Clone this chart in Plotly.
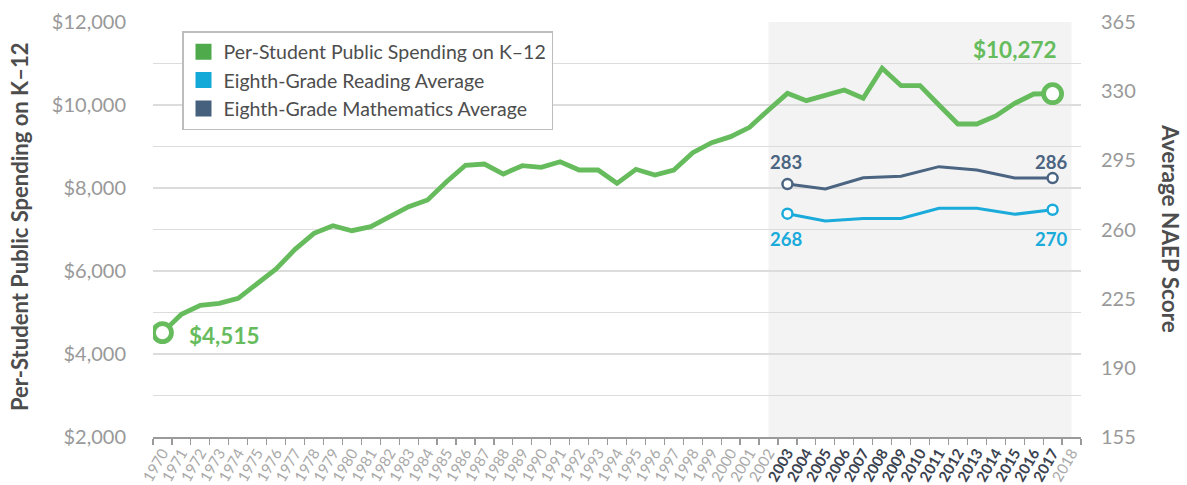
import plotly.graph_objects as go

years = [str(y) for y in range(1970, 2019)]
spend_years = [str(y) for y in range(1970, 2018)]
spending = [4515, 4957, 5173, 5222, 5342, 5687, 6048, 6522, 6908, 7092,
            6971, 7067, 7309, 7550, 7711, 8152, 8547, 8578, 8337, 8537,
            8498, 8634, 8434, 8434, 8113, 8450, 8313, 8434, 8851, 9092,
            9237, 9462, 9880, 10281, 10104, 10241, 10361, 10161, 10884, 10466,
            10466, 10000, 9542, 9542, 9735, 10040, 10265, 10272]
naep_years = ["2003", "2005", "2007", "2009", "2011", "2013", "2015", "2017"]
math_avg = [283, 280.5, 286.2, 287.0, 291.8, 290.1, 286.1, 286]
reading_avg = [268, 264.3, 265.6, 265.6, 270.7, 270.7, 267.7, 270]
left_ticks = [2000, 4000, 6000, 8000, 10000, 12000]
right_ticks = [155, 190, 225, 260, 295, 330, 365]
highlight_years = [str(y) for y in range(2003, 2018)]
shade_start, shade_end = "2002", "2018"

GREEN = "#66bc5d"
CYAN = "#1aabdb"
SLATE = "#4a6481"
FONT = "Lato"

L, R, T, B = 153, 106, 22, 48
W, H = 1187, 485
plot_w = W - L - R
plot_h = H - T - B


def px_x(px):
    return (px - L) / plot_w


def px_y(py):
    return (H - B - py) / plot_h


def idx(year):
    return years.index(year)


fig = go.Figure()

fig.add_trace(go.Scatter(x=spend_years, y=spending, mode="lines",
                         line=dict(color=GREEN, width=4.8), showlegend=False,
                         yaxis="y", hoverinfo="skip"))
fig.add_trace(go.Scatter(x=naep_years, y=reading_avg, mode="lines",
                         line=dict(color=CYAN, width=3), showlegend=False,
                         yaxis="y2", hoverinfo="skip"))
fig.add_trace(go.Scatter(x=naep_years, y=math_avg, mode="lines",
                         line=dict(color=SLATE, width=3), showlegend=False,
                         yaxis="y2", hoverinfo="skip"))

# endpoint markers
fig.add_trace(go.Scatter(x=[spend_years[0], spend_years[-1]], y=[spending[0], spending[-1]],
                         mode="markers", showlegend=False, yaxis="y", hoverinfo="skip",
                         marker=dict(size=18, color="white", line=dict(color=GREEN, width=4.8))))
fig.add_trace(go.Scatter(x=[naep_years[0], naep_years[-1]], y=[reading_avg[0], reading_avg[-1]],
                         mode="markers", showlegend=False, yaxis="y2", hoverinfo="skip",
                         marker=dict(size=10, color="white", line=dict(color=CYAN, width=2.5))))
fig.add_trace(go.Scatter(x=[naep_years[0], naep_years[-1]], y=[math_avg[0], math_avg[-1]],
                         mode="markers", showlegend=False, yaxis="y2", hoverinfo="skip",
                         marker=dict(size=10, color="white", line=dict(color=SLATE, width=2.5))))

# legend entries (square swatches)
for name, col in [("Per-Student Public Spending on K–12", "#4eaa4b"),
                  ("Eighth-Grade Reading Average", "#12a8d8"),
                  ("Eighth-Grade Mathematics Average", "#46617e")]:
    fig.add_trace(go.Scatter(x=[None], y=[None], mode="markers", name=name,
                             marker=dict(symbol="square", size=18, color=col)))

ticktext = []
for y in years:
    if y in highlight_years:
        ticktext.append(f"<b><span style='color:#3b4250'>{y}</span></b>")
    else:
        ticktext.append(y)

fig.add_shape(type="rect", xref="x", yref="paper",
              x0=idx(shade_start), x1=idx(shade_end), y0=0, y1=1,
              fillcolor="#f3f3f3", line=dict(width=0), layer="below")

label_font = lambda size, color: dict(size=size, color=color, family=FONT)
annotations = [
    dict(x=idx(spend_years[0]), y=spending[0], xref="x", yref="y", text="<b>$4,515</b>",
         xanchor="left", yanchor="middle", xshift=25, yshift=-3,
         font=label_font(22.5, GREEN), showarrow=False),
    dict(x=idx(spend_years[-1]), y=spending[-1], xref="x", yref="y", text="<b>$10,272</b>",
         xanchor="right", yanchor="middle", xshift=6, yshift=44,
         font=label_font(22.5, GREEN), showarrow=False),
    dict(x=idx(naep_years[0]), y=294.1, xref="x", yref="y2", text=f"<b>{math_avg[0]:.0f}</b>",
         xanchor="center", yanchor="middle", xshift=-1,
         font=label_font(18.5, SLATE), showarrow=False),
    dict(x=idx(naep_years[-1]), y=294.1, xref="x", yref="y2", text=f"<b>{math_avg[-1]:.0f}</b>",
         xanchor="center", yanchor="middle", xshift=-2,
         font=label_font(18.5, SLATE), showarrow=False),
    dict(x=idx(naep_years[0]), y=255.2, xref="x", yref="y2", text=f"<b>{reading_avg[0]:.0f}</b>",
         xanchor="center", yanchor="middle", xshift=-1,
         font=label_font(18.5, CYAN), showarrow=False),
    dict(x=idx(naep_years[-1]), y=255.2, xref="x", yref="y2", text=f"<b>{reading_avg[-1]:.0f}</b>",
         xanchor="center", yanchor="middle", xshift=-2,
         font=label_font(18.5, CYAN), showarrow=False),
    dict(x=px_x(19), y=px_y(227), xref="paper", yref="paper",
         text="<b>Per-Student Public Spending on K–12</b>",
         textangle=-90, showarrow=False, xanchor="center", yanchor="middle",
         font=label_font(22, "#4d4d4d")),
    dict(x=px_x(1171), y=px_y(228), xref="paper", yref="paper",
         text="<b>Average NAEP Score</b>", textangle=90, showarrow=False,
         xanchor="center", yanchor="middle", font=label_font(22.5, "#4d4d4d")),
]

fig.update_layout(
    annotations=annotations,
    width=W, height=H,
    margin=dict(l=L, r=R, t=T, b=B, autoexpand=False),
    plot_bgcolor="white", paper_bgcolor="white",
    font=dict(family=FONT, color="#999999"),
    hovermode=False,
    xaxis=dict(type="category", categoryorder="array", categoryarray=years,
               range=[-0.5, len(years) - 0.5], tickvals=years, ticktext=ticktext,
               tickangle=-60, tickson="boundaries", ticks="outside", ticklen=6,
               tickcolor="#9a9a9a", tickwidth=1.2, showline=True, linecolor="#9a9a9a",
               linewidth=1.5, showgrid=False, automargin=False,
               tickfont=dict(size=15, color="#a8a8a8", family=FONT)),
    yaxis=dict(range=[2000, 12000], tickvals=left_ticks,
               ticktext=[f"${v:,}" for v in left_ticks],
               showgrid=True, gridcolor="#dcdcdc", gridwidth=1.5,
               minor=dict(dtick=1000, showgrid=True, gridcolor="#dcdcdc", gridwidth=1.5),
               zeroline=False, ticks="outside", ticklen=22, tickcolor="rgba(0,0,0,0)",
               automargin=False,
               tickfont=dict(size=20, color="#999999", family=FONT)),
    yaxis2=dict(range=[155, 365], tickvals=right_ticks, overlaying="y", side="right",
                showgrid=False, zeroline=False, ticks="outside", ticklen=15,
                tickcolor="rgba(0,0,0,0)", automargin=False,
                tickfont=dict(size=20, color="#999999", family=FONT)),
    legend=dict(x=px_x(182), y=px_y(31), xanchor="left", yanchor="top",
                bgcolor="white", bordercolor="#bdbdbd", borderwidth=1.5,
                font=dict(size=19.5, color="#4d4d4d", family=FONT), tracegroupgap=0),
)

fig.write_html("out.html", config={"displayModeBar": False, "staticPlot": True},
               post_script="document.body.style.margin='0';document.body.style.overflow='hidden';")
